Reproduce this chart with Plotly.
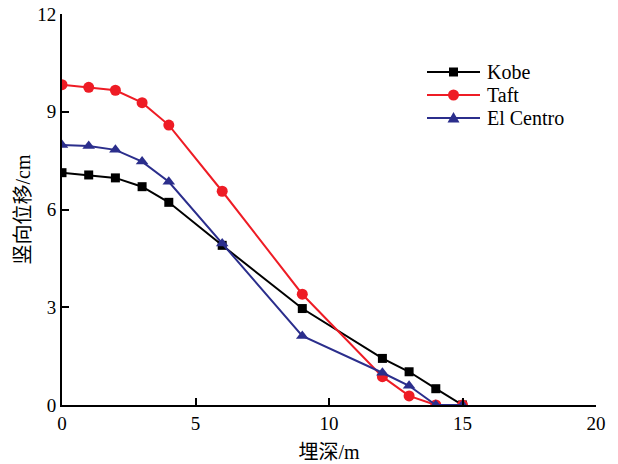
import plotly.graph_objects as go

# burial depth (m)
depth = [0, 1, 2, 3, 4, 6, 9, 12, 13, 14, 15]

# vertical displacement (cm) for each ground motion record
kobe = [7.13, 7.06, 6.97, 6.70, 6.22, 4.90, 2.96, 1.43, 1.02, 0.50, 0.0]
taft = [9.83, 9.75, 9.66, 9.28, 8.59, 6.56, 3.40, 0.87, 0.28, 0.0, 0.0]
el_centro = [7.98, 7.95, 7.83, 7.47, 6.85, 4.96, 2.12, 0.99, 0.59, 0.0, 0.0]

series_names = ["Kobe", "Taft", "El Centro"]
series_values = [kobe, taft, el_centro]

x_ticks = [0, 5, 10, 15, 20]
y_ticks = [0, 3, 6, 9, 12]

serif = "Liberation Serif, Times New Roman, Noto Sans CJK SC, serif"
colors = ["#000000", "#ee1c25", "#2b2e8c"]
symbols = ["square", "circle", "triangle-up"]
sizes = [9, 11, 11]

W, H = 618, 464
L, R, T, B = 62, 22, 14, 59
PW, PH = W - L - R, H - T - B


def px_x(p):
    return (p - L) / PW


def px_y(p):
    return (H - B - p) / PH


fig = go.Figure()
for name, vals, c, s, sz in zip(series_names, series_values, colors, symbols, sizes):
    fig.add_trace(go.Scatter(
        x=depth, y=vals, name=name, mode="lines+markers",
        line=dict(color=c, width=2),
        marker=dict(symbol=s, size=sz, color=c),
        showlegend=False,
    ))

# legend key drawn by hand: long line sample with a marker in the middle
shapes = []
annotations = []
row_y = [72, 95, 118]
x0, x1 = 427, 480
xm = (x0 + x1) / 2
for name, c, s, yy in zip(series_names, colors, symbols, row_y):
    shapes.append(dict(type="line", xref="paper", yref="paper",
                       x0=px_x(x0), x1=px_x(x1), y0=px_y(yy), y1=px_y(yy),
                       line=dict(color=c, width=2)))
    if s == "square":
        shapes.append(dict(type="rect", xref="paper", yref="paper",
                           x0=px_x(xm - 4.5), x1=px_x(xm + 4.5),
                           y0=px_y(yy + 4.5), y1=px_y(yy - 4.5),
                           fillcolor=c, line=dict(width=0)))
    elif s == "circle":
        shapes.append(dict(type="circle", xref="paper", yref="paper",
                           x0=px_x(xm - 5.5), x1=px_x(xm + 5.5),
                           y0=px_y(yy + 5.5), y1=px_y(yy - 5.5),
                           fillcolor=c, line=dict(width=0)))
    else:
        path = "M{},{} L{},{} L{},{} Z".format(
            px_x(xm - 6), px_y(yy + 4.5),
            px_x(xm + 6), px_y(yy + 4.5),
            px_x(xm), px_y(yy - 6))
        shapes.append(dict(type="path", xref="paper", yref="paper", path=path,
                           fillcolor=c, line=dict(width=0)))
    annotations.append(dict(text=name, xref="paper", yref="paper",
                            x=px_x(485), y=px_y(yy), xanchor="left", yanchor="middle",
                            showarrow=False, font=dict(family=serif, size=20, color="black")))

fig.update_layout(
    width=W, height=H,
    margin=dict(l=L, r=R, t=T, b=B, autoexpand=False),
    paper_bgcolor="white", plot_bgcolor="white",
    font=dict(family=serif, size=18, color="black"),
    showlegend=False,
    shapes=shapes,
    annotations=annotations,
    xaxis=dict(
        range=[0, 20], tickvals=x_ticks, ticktext=[str(v) for v in x_ticks],
        showgrid=False, zeroline=False, showline=True, linecolor="black", linewidth=2,
        ticks="inside", ticklen=7, tickwidth=2, tickcolor="black", automargin=False,
        title=dict(text="埋深/m", font=dict(family=serif, size=20), standoff=12),
        tickfont=dict(family=serif, size=19),
    ),
    yaxis=dict(
        range=[0, 12], tickvals=y_ticks, ticktext=[str(v) for v in y_ticks],
        showgrid=False, zeroline=False, showline=True, linecolor="black", linewidth=2,
        ticks="inside", ticklen=7, tickwidth=2, tickcolor="black", automargin=False,
        title=dict(text="竖向位移/cm", font=dict(family=serif, size=20), standoff=1),
        tickfont=dict(family=serif, size=19),
    ),
)

fig.write_html("out.html")
